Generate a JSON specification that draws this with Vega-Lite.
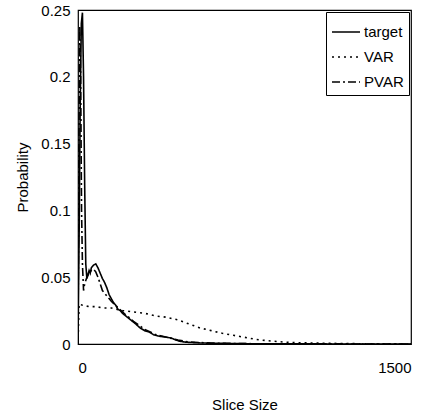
{
  "$schema": "https://vega.github.io/schema/vega-lite/v6.json",
  "width": 333,
  "height": 334,
  "autosize": "none",
  "padding": {"left": 78, "top": 10, "right": 19, "bottom": 75},
  "background": "white",
  "config": {
    "font": "Liberation Sans",
    "view": {"stroke": "black", "strokeWidth": 1.2},
    "axis": {"grid": false, "ticks": false, "domain": false, "labelColor": "black", "titleColor": "black", "labelFontSize": 15, "titleFontSize": 15, "titleFontWeight": "normal", "labelFont": "Liberation Sans", "titleFont": "Liberation Sans"}
  },
  "data": {"values": [
    {"size": 0, "p": 0, "series": "target"},
    {"size": 5, "p": 0.08, "series": "target"},
    {"size": 10, "p": 0.18, "series": "target"},
    {"size": 15, "p": 0.24, "series": "target"},
    {"size": 20, "p": 0.248, "series": "target"},
    {"size": 25, "p": 0.2, "series": "target"},
    {"size": 30, "p": 0.12, "series": "target"},
    {"size": 35, "p": 0.06, "series": "target"},
    {"size": 40, "p": 0.049, "series": "target"},
    {"size": 45, "p": 0.052, "series": "target"},
    {"size": 50, "p": 0.055, "series": "target"},
    {"size": 55, "p": 0.053, "series": "target"},
    {"size": 60, "p": 0.057, "series": "target"},
    {"size": 70, "p": 0.059, "series": "target"},
    {"size": 80, "p": 0.06, "series": "target"},
    {"size": 90, "p": 0.057, "series": "target"},
    {"size": 100, "p": 0.053, "series": "target"},
    {"size": 110, "p": 0.049, "series": "target"},
    {"size": 120, "p": 0.046, "series": "target"},
    {"size": 130, "p": 0.042, "series": "target"},
    {"size": 140, "p": 0.037, "series": "target"},
    {"size": 150, "p": 0.034, "series": "target"},
    {"size": 160, "p": 0.031, "series": "target"},
    {"size": 170, "p": 0.029, "series": "target"},
    {"size": 180, "p": 0.026, "series": "target"},
    {"size": 190, "p": 0.025, "series": "target"},
    {"size": 200, "p": 0.023, "series": "target"},
    {"size": 215, "p": 0.021, "series": "target"},
    {"size": 230, "p": 0.019, "series": "target"},
    {"size": 245, "p": 0.017, "series": "target"},
    {"size": 260, "p": 0.015, "series": "target"},
    {"size": 280, "p": 0.012, "series": "target"},
    {"size": 300, "p": 0.01, "series": "target"},
    {"size": 320, "p": 0.009, "series": "target"},
    {"size": 340, "p": 0.007, "series": "target"},
    {"size": 360, "p": 0.006, "series": "target"},
    {"size": 380, "p": 0.0055, "series": "target"},
    {"size": 400, "p": 0.005, "series": "target"},
    {"size": 420, "p": 0.0045, "series": "target"},
    {"size": 440, "p": 0.003, "series": "target"},
    {"size": 460, "p": 0.002, "series": "target"},
    {"size": 480, "p": 0.0015, "series": "target"},
    {"size": 500, "p": 0.0012, "series": "target"},
    {"size": 550, "p": 0.0008, "series": "target"},
    {"size": 600, "p": 0.0006, "series": "target"},
    {"size": 650, "p": 0.0005, "series": "target"},
    {"size": 700, "p": 0.0003, "series": "target"},
    {"size": 800, "p": 0.0002, "series": "target"},
    {"size": 900, "p": 0.0001, "series": "target"},
    {"size": 1000, "p": 0.0001, "series": "target"},
    {"size": 1200, "p": 0, "series": "target"},
    {"size": 1500, "p": 0, "series": "target"},
    {"size": 0, "p": 0, "series": "VAR"},
    {"size": 5, "p": 0.03, "series": "VAR"},
    {"size": 20, "p": 0.029, "series": "VAR"},
    {"size": 50, "p": 0.028, "series": "VAR"},
    {"size": 80, "p": 0.028, "series": "VAR"},
    {"size": 110, "p": 0.027, "series": "VAR"},
    {"size": 150, "p": 0.027, "series": "VAR"},
    {"size": 200, "p": 0.025, "series": "VAR"},
    {"size": 250, "p": 0.024, "series": "VAR"},
    {"size": 300, "p": 0.023, "series": "VAR"},
    {"size": 350, "p": 0.021, "series": "VAR"},
    {"size": 400, "p": 0.02, "series": "VAR"},
    {"size": 450, "p": 0.018, "series": "VAR"},
    {"size": 500, "p": 0.015, "series": "VAR"},
    {"size": 550, "p": 0.012, "series": "VAR"},
    {"size": 600, "p": 0.01, "series": "VAR"},
    {"size": 650, "p": 0.008, "series": "VAR"},
    {"size": 700, "p": 0.0065, "series": "VAR"},
    {"size": 750, "p": 0.005, "series": "VAR"},
    {"size": 800, "p": 0.0035, "series": "VAR"},
    {"size": 850, "p": 0.0025, "series": "VAR"},
    {"size": 900, "p": 0.0018, "series": "VAR"},
    {"size": 950, "p": 0.0012, "series": "VAR"},
    {"size": 1000, "p": 0.0009, "series": "VAR"},
    {"size": 1100, "p": 0.0006, "series": "VAR"},
    {"size": 1200, "p": 0.0003, "series": "VAR"},
    {"size": 1300, "p": 0.0002, "series": "VAR"},
    {"size": 1400, "p": 0.0001, "series": "VAR"},
    {"size": 1500, "p": 0, "series": "VAR"},
    {"size": 0, "p": 0, "series": "PVAR"},
    {"size": 4, "p": 0.15, "series": "PVAR"},
    {"size": 8, "p": 0.238, "series": "PVAR"},
    {"size": 12, "p": 0.2, "series": "PVAR"},
    {"size": 16, "p": 0.1, "series": "PVAR"},
    {"size": 20, "p": 0.06, "series": "PVAR"},
    {"size": 25, "p": 0.04, "series": "PVAR"},
    {"size": 30, "p": 0.045, "series": "PVAR"},
    {"size": 40, "p": 0.05, "series": "PVAR"},
    {"size": 50, "p": 0.053, "series": "PVAR"},
    {"size": 60, "p": 0.055, "series": "PVAR"},
    {"size": 70, "p": 0.056, "series": "PVAR"},
    {"size": 80, "p": 0.054, "series": "PVAR"},
    {"size": 90, "p": 0.05, "series": "PVAR"},
    {"size": 100, "p": 0.045, "series": "PVAR"},
    {"size": 110, "p": 0.04, "series": "PVAR"},
    {"size": 120, "p": 0.038, "series": "PVAR"},
    {"size": 130, "p": 0.036, "series": "PVAR"},
    {"size": 140, "p": 0.034, "series": "PVAR"},
    {"size": 150, "p": 0.032, "series": "PVAR"},
    {"size": 200, "p": 0.024, "series": "PVAR"},
    {"size": 250, "p": 0.017, "series": "PVAR"},
    {"size": 300, "p": 0.011, "series": "PVAR"},
    {"size": 350, "p": 0.007, "series": "PVAR"},
    {"size": 400, "p": 0.005, "series": "PVAR"},
    {"size": 450, "p": 0.003, "series": "PVAR"},
    {"size": 500, "p": 0.0015, "series": "PVAR"},
    {"size": 600, "p": 0.0007, "series": "PVAR"},
    {"size": 700, "p": 0.0004, "series": "PVAR"},
    {"size": 800, "p": 0.0002, "series": "PVAR"},
    {"size": 1000, "p": 0.0001, "series": "PVAR"},
    {"size": 1500, "p": 0, "series": "PVAR"}
  ]},
  "mark": {"type": "line", "color": "black", "strokeWidth": 1.6, "clip": true},
  "encoding": {
    "x": {"field": "size", "type": "quantitative", "title": "Slice Size", "scale": {"domain": [0, 1500], "nice": false}, "axis": {"values": [0, 1500], "format": "d", "labelPadding": 16, "titlePadding": 22}},
    "y": {"field": "p", "type": "quantitative", "title": "Probability", "scale": {"domain": [0, 0.25], "nice": false}, "axis": {"values": [0, 0.05, 0.1, 0.15, 0.2, 0.25], "format": "~g", "labelPadding": 8, "titlePadding": 10}},
    "detail": {"field": "series"},
    "strokeDash": {
      "field": "series", "type": "nominal",
      "scale": {"domain": ["target", "VAR", "PVAR"], "range": [[1, 0], [2, 4], [8, 3, 2, 3]]},
      "legend": {"title": null, "orient": "top-right", "offset": 2, "symbolType": "stroke", "symbolSize": 784, "symbolStrokeColor": "black", "symbolStrokeWidth": 1.6, "labelFontSize": 15, "labelColor": "black", "strokeColor": "black", "padding": 5, "rowPadding": 2, "labelOffset": 3, "fillColor": "white"}
    }
  }
}
